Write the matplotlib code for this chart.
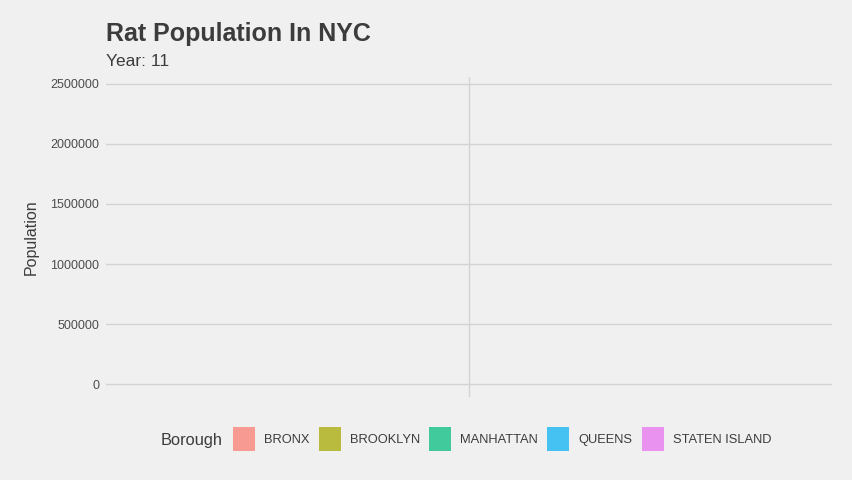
import matplotlib
matplotlib.use("Agg")
import matplotlib.pyplot as plt
from matplotlib.patches import Patch
import numpy as np

plt.rcParams['font.family'] = ['Liberation Sans', 'DejaVu Sans']

boroughs = ["BRONX", "BROOKLYN", "MANHATTAN", "QUEENS", "STATEN ISLAND"]
colors = ["#F69A92", "#B9BB3F", "#41CB9C", "#45C1F2", "#E992F0"]
population = [0, 0, 0, 0, 0]  # year 11 frame: bars not yet grown
yticks = [0, 500000, 1000000, 1500000, 2000000, 2500000]
title = "Rat Population In NYC"
subtitle = "Year: 11"

W, H = 852, 480
fig = plt.figure(figsize=(W / 100, H / 100), dpi=100, facecolor="#F0F0F0")
ax = fig.add_axes([106 / W, 1 - 397 / H, (832 - 106) / W, (397 - 77) / H])
ax.set_facecolor("#F0F0F0")

n = len(boroughs)
width = 0.9 / n
x = 1 + (np.arange(n) - (n - 1) / 2) * width
ax.bar(x, population, width=width, color=colors, linewidth=0, zorder=3)

ax.set_xlim(0.4, 1.6)
ax.set_xticks([1])
ax.set_xticklabels([""])
ax.set_ylim(-108333, 2558333)
ax.set_yticks(yticks)
ax.set_yticklabels([str(v) for v in yticks], fontsize=9, color="#4d4d4d")
ax.tick_params(length=0, pad=5)
ax.grid(True, color="#D3D3D3", linewidth=1, zorder=0)
for s in ax.spines.values():
    s.set_visible(False)
ax.set_ylabel("Population", fontsize=11.5, color="#3c3c3c", labelpad=8)

fig.text(106 / W, 1 - 40.5 / H, title, fontsize=18, fontweight="bold",
         color="#3c3c3c", va="baseline", ha="left")
fig.text(106 / W, 1 - 66.5 / H, subtitle, fontsize=12.5, color="#3c3c3c",
         va="baseline", ha="left")

fig.text(161 / W, 1 - 440 / H, "Borough", fontsize=11.8, color="#3c3c3c",
         va="center", ha="left")
handles = [Patch(facecolor=c, edgecolor="none") for c in colors]
fs = 9.3
leg = fig.legend(handles, boroughs, loc="center left",
                 bbox_to_anchor=(233 / W, 1 - 439 / H), ncol=n, frameon=False,
                 fontsize=fs, handlelength=1.7, handleheight=2.45,
                 handletextpad=0.7, columnspacing=0.72, borderpad=0,
                 borderaxespad=0, labelcolor="#3c3c3c")

fig.savefig("out.png", dpi=100, facecolor="#F0F0F0")
